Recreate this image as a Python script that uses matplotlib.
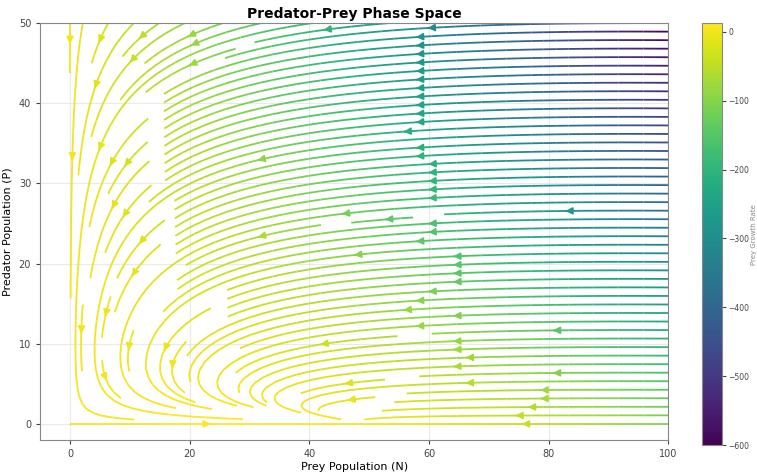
import numpy as np
import matplotlib
matplotlib.use("Agg")
import matplotlib.pyplot as plt

# Model parameters (prey logistic growth, predation, predator dynamics)
alpha = 1.0      # prey growth rate
K = 50.0         # prey carrying capacity
beta = 0.1       # predation rate
delta = 0.008    # predator efficiency
gamma = 0.75     # predator death rate

prey_range = [0, 100]
pred_range = [0, 50]
x_ticks = [0, 20, 40, 60, 80, 100]
y_ticks = [0, 10, 20, 30, 40, 50]
cbar_ticks = [0, -100, -200, -300, -400, -500, -600]

N = np.linspace(prey_range[0], prey_range[1], 101)
P = np.linspace(pred_range[0], pred_range[1], 51)
NN, PP = np.meshgrid(N, P)
dN = alpha * NN * (1 - NN / K) - beta * NN * PP
dP = delta * NN * PP - gamma * PP

fig = plt.figure(figsize=(7.57, 4.72), dpi=100)
ax = fig.add_axes([0.053, 0.068, 0.83, 0.883])
cax = fig.add_axes([0.928, 0.057, 0.026, 0.894])

strm = ax.streamplot(NN, PP, dN, dP, color=dN, cmap="viridis",
                     density=1.6, linewidth=1.3, arrowsize=1.0)
ax.set_xlim(-5, 100)
ax.set_ylim(-2, 50)
ax.set_xticks(x_ticks)
ax.set_yticks(y_ticks)
ax.grid(True, color="#dddddd", linewidth=0.8, alpha=0.6)
for s in ax.spines.values():
    s.set_color("#888888")
ax.tick_params(colors="#444444", labelsize=7, length=3)
ax.set_title("Predator-Prey Phase Space", fontsize=10, fontweight="bold", pad=4)
ax.set_xlabel("Prey Population (N)", fontsize=8, labelpad=2)
ax.set_ylabel("Predator Population (P)", fontsize=8, labelpad=4)

cb = fig.colorbar(strm.lines, cax=cax)
cb.set_ticks(cbar_ticks)
cb.ax.tick_params(labelsize=5.5, colors="#444444", length=3, pad=1.5)
cb.outline.set_edgecolor("#888888")
cb.set_label("Prey Growth Rate", fontsize=5, color="#888888", labelpad=1)

fig.savefig("out.png", dpi=100)
